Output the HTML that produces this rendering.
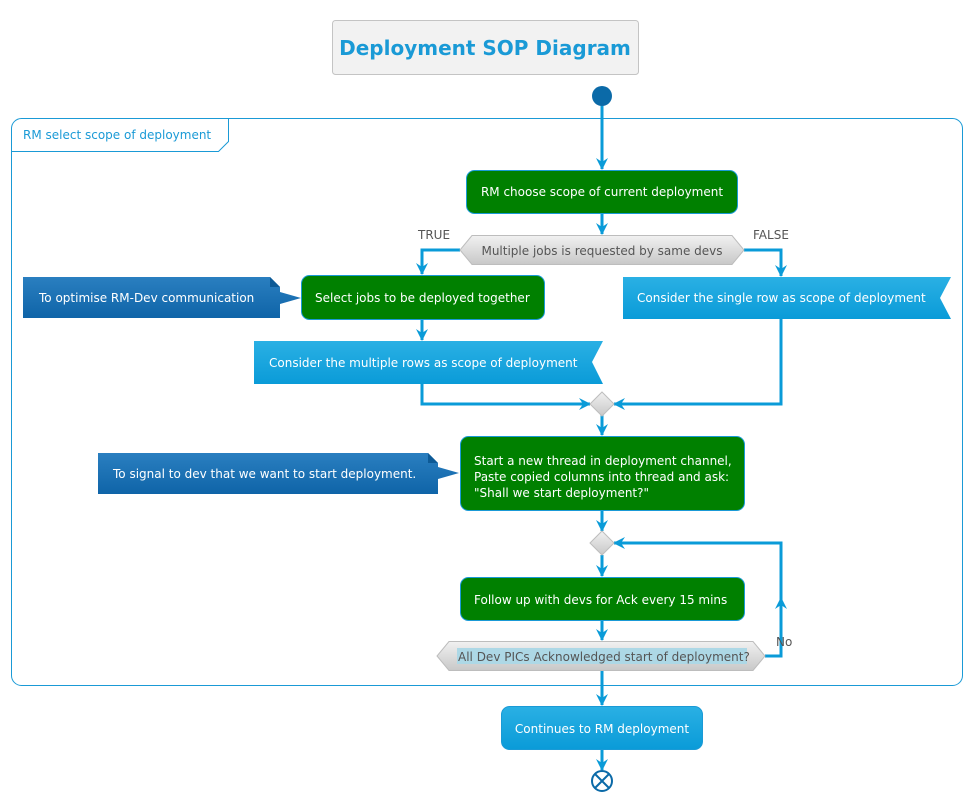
<!DOCTYPE html>
<html><head><meta charset="utf-8"><style>
body{margin:0;background:#fff}
text{font-family:"DejaVu Sans","Liberation Sans",sans-serif}
</style></head><body>
<svg width="973" height="802" viewBox="0 0 973 802" xmlns="http://www.w3.org/2000/svg">
<defs>
<linearGradient id="g" x1="0" y1="0" x2="0" y2="1"><stop offset="0" stop-color="#f1f1f1"/><stop offset="1" stop-color="#c8c8c8"/></linearGradient>
<linearGradient id="b" x1="0" y1="0" x2="0" y2="1"><stop offset="0" stop-color="#2ab0e4"/><stop offset="1" stop-color="#0a9bd8"/></linearGradient>
<linearGradient id="n" x1="0" y1="0" x2="0" y2="1"><stop offset="0" stop-color="#2a7fc0"/><stop offset="1" stop-color="#0f64a8"/></linearGradient>
<marker id="a" viewBox="0 0 12 12" refX="11" refY="6" markerWidth="12" markerHeight="12" markerUnits="userSpaceOnUse" orient="auto"><path d="M0,0 L12,6 L0,12 L4,6 Z" fill="#0a9bd8"/></marker>
</defs>
<rect x="332.5" y="20.5" width="306" height="54" rx="3" fill="#f2f2f2" stroke="#c4c4c4"/>
<text x="485" y="55" text-anchor="middle" font-size="20" font-weight="bold" fill="#1a9ad6">Deployment SOP Diagram</text>
<rect x="11.5" y="118.5" width="951" height="567" rx="10" fill="none" stroke="#1a9ad6"/>
<path d="M11.5,151.5 H218.5 L228.5,141.5 V118.5" fill="none" stroke="#1a9ad6"/>
<text x="23" y="139" font-size="12" fill="#1a9ad6">RM select scope of deployment</text>
<circle cx="602" cy="96" r="10" fill="#0b6aa8"/>
<g stroke="#0a9bd8" stroke-width="3" fill="none">
<path d="M602,106 V169" marker-end="url(#a)"/>
<path d="M602,213 V234" marker-end="url(#a)"/>
<path d="M460,250 H422 V274" marker-end="url(#a)"/>
<path d="M744,250 H781 V276" marker-end="url(#a)"/>
<path d="M422,320 V340" marker-end="url(#a)"/>
<path d="M422,384 V404 H590" marker-end="url(#a)"/>
<path d="M781,319 V404 H614" marker-end="url(#a)"/>
<path d="M602,415 V435" marker-end="url(#a)"/>
<path d="M602,510 V531" marker-end="url(#a)"/>
<path d="M602,555 V576" marker-end="url(#a)"/>
<path d="M602,620 V640" marker-end="url(#a)"/>
<path d="M765,656 H781 V543 H614" marker-end="url(#a)"/>
<path d="M781,620 V598" marker-end="url(#a)"/>
<path d="M602,670 V705" marker-end="url(#a)"/>
<path d="M602,750 V770" marker-end="url(#a)"/>
</g>
<rect x="466.5" y="170.5" width="271" height="43" rx="8" fill="#008000" stroke="#1a9ad6"/>
<text x="602" y="196" text-anchor="middle" font-size="12" fill="#fff">RM choose scope of current deployment</text>
<path d="M472,235.5 H732 L744,250 L732,264.5 H472 L460,250 Z" fill="url(#g)" stroke="#bdbdbd"/>
<text x="602" y="255" text-anchor="middle" font-size="12" fill="#555">Multiple jobs is requested by same devs</text>
<text x="418" y="239" font-size="12" fill="#555">TRUE</text>
<text x="753" y="239" font-size="12" fill="#555">FALSE</text>
<rect x="301.5" y="275.5" width="243" height="44" rx="8" fill="#008000" stroke="#1a9ad6"/>
<text x="315" y="302" font-size="12" fill="#fff">Select jobs to be deployed together</text>
<path d="M23,277 H270 L280,287 V292 L301,298 L280,304 V318 H23 Z" fill="url(#n)"/>
<path d="M270,277 V287 H280 Z" fill="#0d5a96"/>
<text x="39" y="302" font-size="12" fill="#fff">To optimise RM-Dev communication</text>
<path d="M623,277 H951 L940,298 L951,319 H623 Z" fill="url(#b)"/>
<text x="637" y="302" font-size="12" fill="#fff">Consider the single row as scope of deployment</text>
<path d="M254,341 H603 L592,362 L603,384 H254 Z" fill="url(#b)"/>
<text x="269" y="367" font-size="12" fill="#fff">Consider the multiple rows as scope of deployment</text>
<path d="M602,392 L614,404 L602,416 L590,404 Z" fill="url(#g)" stroke="#bdbdbd"/>
<rect x="460.5" y="436.5" width="284" height="74" rx="8" fill="#008000" stroke="#1a9ad6"/>
<text font-size="12" fill="#fff"><tspan x="474" y="465">Start a new thread in deployment channel,</tspan><tspan x="474" y="481">Paste copied columns into thread and ask:</tspan><tspan x="474" y="497">"Shall we start deployment?"</tspan></text>
<path d="M98,453 H428 L438,463 V467 L459,473 L438,479 V494 H98 Z" fill="url(#n)"/>
<path d="M428,453 V463 H438 Z" fill="#0d5a96"/>
<text x="113" y="478" font-size="12" fill="#fff">To signal to dev that we want to start deployment.</text>
<path d="M602,531 L614,543 L602,555 L590,543 Z" fill="url(#g)" stroke="#bdbdbd"/>
<rect x="460.5" y="577.5" width="284" height="43" rx="8" fill="#008000" stroke="#1a9ad6"/>
<text x="474" y="604" font-size="12" fill="#fff">Follow up with devs for Ack every 15 mins</text>
<path d="M449,641.5 H753 L765,656 L753,670.5 H449 L437,656 Z" fill="url(#g)" stroke="#bdbdbd"/>
<rect x="457" y="648" width="290" height="16" fill="#add8e6"/>
<text x="458" y="661" font-size="12" fill="#555">All Dev PICs Acknowledged start of deployment?</text>
<text x="776" y="646" font-size="12" fill="#555">No</text>
<rect x="501.5" y="706.5" width="201" height="43" rx="8" fill="url(#b)" stroke="#1a9ad6"/>
<text x="602" y="733" text-anchor="middle" font-size="12" fill="#fff">Continues to RM deployment</text>
<circle cx="602" cy="781" r="10" fill="#fff" stroke="#0b6aa8" stroke-width="2"/>
<path d="M595,774 L609,788 M609,774 L595,788" stroke="#0b6aa8" stroke-width="2"/>
</svg>
</body></html>
